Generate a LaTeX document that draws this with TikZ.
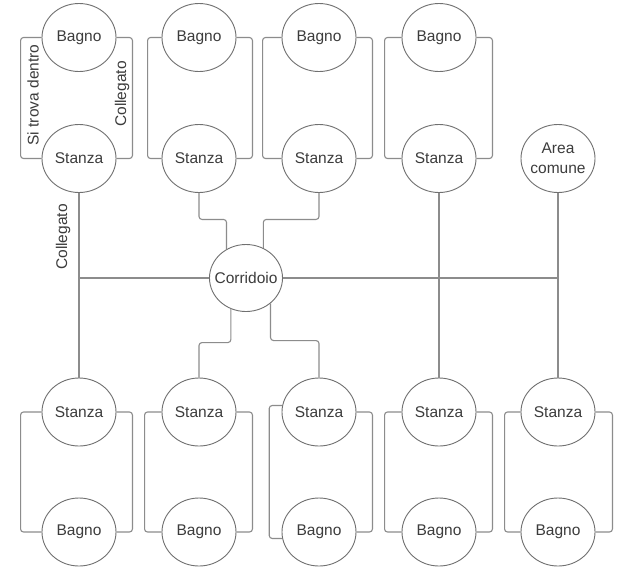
\documentclass[tikz,border=0pt]{standalone}
\usepackage{fontspec}
\setmainfont{Liberation Sans}
\usetikzlibrary{shapes.geometric,calc}
\definecolor{linegray}{HTML}{8C8C8C}
\definecolor{circgray}{HTML}{707070}
\definecolor{txtgray}{HTML}{3C3C3C}
\newcommand{\zw}[1]{\makebox[0pt]{#1}}
\begin{document}
\begin{tikzpicture}[x=1pt,y=-1pt,
  room/.style={ellipse, draw=circgray, line width=0.9pt, minimum width=74pt, minimum height=68pt, inner sep=0pt, font=\fontsize{15.5}{20}\selectfont, text=txtgray, align=center},
  link/.style={draw=linegray, line width=1.1pt, rounded corners=3pt},
  lab/.style={font=\fontsize{15.5}{17}\selectfont, text=txtgray, rotate=90}]
\useasboundingbox (0,0) rectangle (621,566);
\fill[white] (0,0) rectangle (621,566);
% top row
\node[room] (tb1) at (79,37.5) {Bagno};
\node[room] (ts1) at (79,158.5) {Stanza};
\node[room] (tb2) at (199,37.5) {Bagno};
\node[room] (ts2) at (199,158.5) {Stanza};
\node[room] (tb3) at (319,37.5) {Bagno};
\node[room] (ts3) at (319,158.5) {Stanza};
\node[room] (tb4) at (439,37.5) {Bagno};
\node[room] (ts4) at (439,158.5) {Stanza};
\node[room] (area) at (558,158.5) {\zw{Area}\\\zw{comune}};
% corridor
\node[room, minimum width=73pt, minimum height=67pt] (cor) at (246,278) {\zw{Corridoio}};
% bottom row
\node[room] (bs1) at (79,412) {Stanza};
\node[room] (bb1) at (79,532) {Bagno};
\node[room] (bs2) at (199,412) {Stanza};
\node[room] (bb2) at (199,532) {Bagno};
\node[room] (bs3) at (319,412) {Stanza};
\node[room] (bb3) at (319,532) {Bagno};
\node[room] (bs4) at (439,412) {Stanza};
\node[room] (bb4) at (439,532) {Bagno};
\node[room] (bs5) at (558,412) {Stanza};
\node[room] (bb5) at (558,532) {Bagno};
% top brackets
\draw[link] (tb1.west) -- ++(-21,0) |- (ts1.west);
\draw[link] (tb1.east) -- ++(16,0) |- (ts1.east);
\draw[link] (tb2.west) -- ++(-14,0) |- (ts2.west);
\draw[link] (tb2.east) -- ++(16,0) |- (ts2.east);
\draw[link] (tb3.west) -- ++(-19,0) |- (ts3.west);
\draw[link] (tb3.east) -- ++(16,0) |- (ts3.east);
\draw[link] (tb4.west) -- ++(-17,0) |- (ts4.west);
\draw[link] (tb4.east) -- ++(16,0) |- (ts4.east);
% bottom brackets
\draw[link] (bs1.west) -- ++(-21,0) |- (bb1.west);
\draw[link] (bs1.east) -- ++(16,0) |- (bb1.east);
\draw[link] (bs2.west) -- ++(-17,0) |- (bb2.west);
\draw[link] (bs2.east) -- ++(16,0) |- (bb2.east);
\draw[link] (bs3.170) -- ++(-13,0) |- (bb3.190);
\draw[link] (bs3.east) -- ++(16,0) |- (bb3.east);
\draw[link] (bs4.west) -- ++(-17,0) |- (bb4.west);
\draw[link] (bs4.east) -- ++(16,0) |- (bb4.east);
\draw[link] (bs5.west) -- ++(-16,0) |- (bb5.west);
\draw[link] (bs5.east) -- ++(17,0) |- (bb5.east);
% corridor network
\draw[link] (ts1.south) -- (bs1.north);
\draw[link] (ts4.south) -- (bs4.north);
\draw[link] (area.south) -- (bs5.north);
\draw[link] (cor.west) -- (cor.west -| ts1.south);
\draw[link] (cor.east) -- (cor.east -| area.south);
\draw[link] (ts2.south) -- ++(0,26.5) -| (cor.124);
\draw[link] (ts3.south) -- ++(0,26.5) -| (cor.60);
\draw[link] (cor.244) |- ($(bs2.north)+(0,-35)$) -- (bs2.north);
\draw[link] (cor.314) |- ($(bs3.north)+(0,-37)$) -- (bs3.north);
% labels
\node[lab] (l1) at (33,95) {Si trova dentro};
\node[lab] (l2) at (122,94) {Collegato};
\node[lab] (l3) at (63,237) {Collegato};
\end{tikzpicture}
\end{document}
